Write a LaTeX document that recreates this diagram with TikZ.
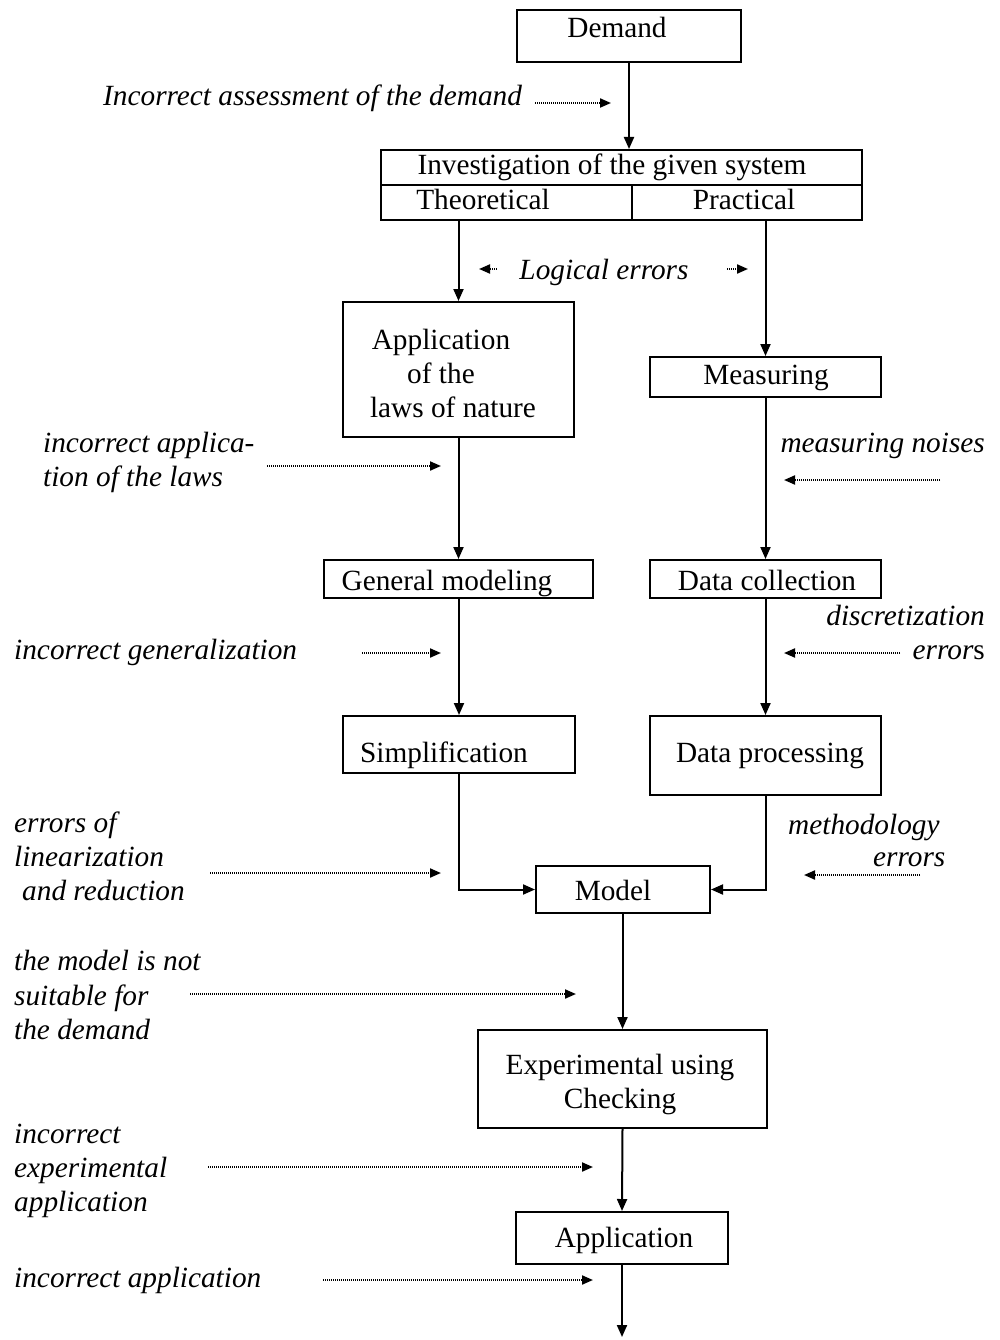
\documentclass[tikz,border=0pt]{standalone}
\usepackage{fontspec}
\setmainfont{Liberation Serif}
\usetikzlibrary{arrows.meta}
\begin{document}
\begin{tikzpicture}[x=1pt,y=-1pt,
  box/.style={draw, line width=2pt, rectangle, inner sep=0pt},
  txt/.style={inner sep=0pt, font=\fontsize{29.3}{34}\selectfont, text height=20pt, text depth=6pt},
  note/.style={inner sep=0pt, anchor=base west, font=\fontsize{29.3}{34}\selectfont\itshape},
  noteR/.style={inner sep=0pt, anchor=base east, font=\fontsize{29.3}{34}\selectfont\itshape},
  flow/.style={line width=2pt, -{Triangle[length=12pt,width=10pt]}},
  hint/.style={line width=2pt, dash pattern=on 1.4pt off 0.6pt, -{Triangle[length=11pt,width=9pt]}}
]
\useasboundingbox (0,0) rectangle (1000,1340);

% boxes
\node[box, minimum width=224, minimum height=52] (demand) at (629,36) {};
\node[box, minimum width=481, minimum height=35] (inv) at (621.5,167.5) {};
\node[box, minimum width=251, minimum height=35] (theo) at (506.5,202.5) {};
\node[box, minimum width=230, minimum height=35] (prac) at (747,202.5) {};
\node[box, minimum width=231, minimum height=135] (app) at (458.5,369.5) {};
\node[box, minimum width=231, minimum height=40] (meas) at (765.5,377) {};
\node[box, minimum width=269, minimum height=38] (gen) at (458.5,579) {};
\node[box, minimum width=231, minimum height=38] (dc) at (765.5,579) {};
\node[box, minimum width=232, minimum height=57] (simp) at (459,744.5) {};
\node[box, minimum width=231, minimum height=79] (dp) at (765.5,755.5) {};
\node[box, minimum width=174, minimum height=47] (model) at (623,889.5) {};
\node[box, minimum width=289, minimum height=98] (exp) at (622.5,1079) {};
\node[box, minimum width=212, minimum height=52] (apply) at (622,1238) {};

% box texts
\node[txt] (tdemand) at (617,31) {Demand};
\node[txt] (tinv) at (612,168) {Investigation of the given system};
\node[txt] (ttheo) at (483,203) {Theoretical};
\node[txt] (tprac) at (744,203) {Practical};
\node[txt] (tapp1) at (441,342) {Application};
\node[txt] (tapp2) at (441,376) {of the};
\node[txt] (tapp3) at (453,410) {laws of nature};
\node[txt] (tmeas) at (766,377) {Measuring};
\node[txt] (tgen) at (447,583) {General modeling};
\node[txt] (tdc) at (767,583) {Data collection};
\node[txt] (tsimp) at (444,755) {Simplification};
\node[txt] (tdp) at (770,755) {Data processing};
\node[txt] (tmodel) at (613,893) {Model};
\node[txt] (texp1) at (620,1067) {Experimental using};
\node[txt] (texp2) at (620,1101) {Checking};
\node[txt] (tapply) at (624,1240) {Application};

% main flow
\draw[flow] (demand.south) -- (demand.south |- inv.north);
\draw[flow] (app.north |- theo.south) -- (app.north);
\draw[flow] (meas.north |- prac.south) -- (meas.north);
\draw[flow] (app.south) -- (gen.north);
\draw[flow] (meas.south) -- (dc.north);
\draw[flow] (gen.south -| simp.north) -- (simp.north);
\draw[flow] (dc.south) -- (dp.north);
\draw[flow] (simp.south) |- (model.west);
\draw[flow] (dp.south) |- (model.east);
\draw[flow] (model.south -| exp.north) -- (exp.north);
\draw[flow] (exp.south) -- (apply.north);
\coordinate (out) at (622,1337);
\draw[flow] (apply.south) -- (out);

% error sources
\node[note] (e1) at (103,106) {Incorrect assessment of the demand};
\node[txt, font=\fontsize{29.3}{34}\selectfont\itshape] (e2) at (604,272) {Logical errors};
\node[note] (e3a) at (43,452) {incorrect applica-};
\node[note] (e3b) at (43,486) {tion of the laws};
\node[noteR] (e4) at (985,452) {measuring noises};
\node[note] (e5) at (14,659) {incorrect generalization};
\node[noteR] (e6a) at (985,625) {discretization};
\node[noteR] (e6b) at (985,659) {error\upshape s};
\node[note] (e7a) at (14,832) {errors of};
\node[note] (e7b) at (14,866) {linearization};
\node[note] (e7c) at (22,900) {and reduction};
\node[note] (e8a) at (788,834) {methodology};
\node[note] (e8b) at (873,866) {errors};
\node[note] (e9a) at (14,970) {the model is not};
\node[note] (e9b) at (14,1005) {suitable for};
\node[note] (e9c) at (14,1039) {the demand};
\node[note] (e10a) at (14,1143) {incorrect};
\node[note] (e10b) at (14,1177) {experimental};
\node[note] (e10c) at (14,1211) {application};
\node[note] (e11) at (14,1287) {incorrect application};

% dotted hints
\coordinate (h1a) at (535,103);  \coordinate (h1b) at (611,103);
\coordinate (h2a) at (497,269);  \coordinate (h2b) at (479,269);
\coordinate (h2c) at (727,269);  \coordinate (h2d) at (748,269);
\coordinate (h3a) at (267,466);  \coordinate (h3b) at (441,466);
\coordinate (h4a) at (940,480);  \coordinate (h4b) at (784,480);
\coordinate (h5a) at (362,653);  \coordinate (h5b) at (441,653);
\coordinate (h6a) at (900,653);  \coordinate (h6b) at (784,653);
\coordinate (h7a) at (210,873);  \coordinate (h7b) at (441,873);
\coordinate (h8a) at (920,875);  \coordinate (h8b) at (804,875);
\coordinate (h9a) at (190,994);  \coordinate (h9b) at (576,994);
\coordinate (h10a) at (208,1167); \coordinate (h10b) at (593,1167);
\coordinate (h11a) at (323,1280); \coordinate (h11b) at (593,1280);
\draw[hint] (h1a) -- (h1b);
\draw[hint] (h2a) -- (h2b);
\draw[hint] (h2c) -- (h2d);
\draw[hint] (h3a) -- (h3b);
\draw[hint] (h4a) -- (h4b);
\draw[hint] (h5a) -- (h5b);
\draw[hint] (h6a) -- (h6b);
\draw[hint] (h7a) -- (h7b);
\draw[hint] (h8a) -- (h8b);
\draw[hint] (h9a) -- (h9b);
\draw[hint] (h10a) -- (h10b);
\draw[hint] (h11a) -- (h11b);
\end{tikzpicture}
\end{document}
